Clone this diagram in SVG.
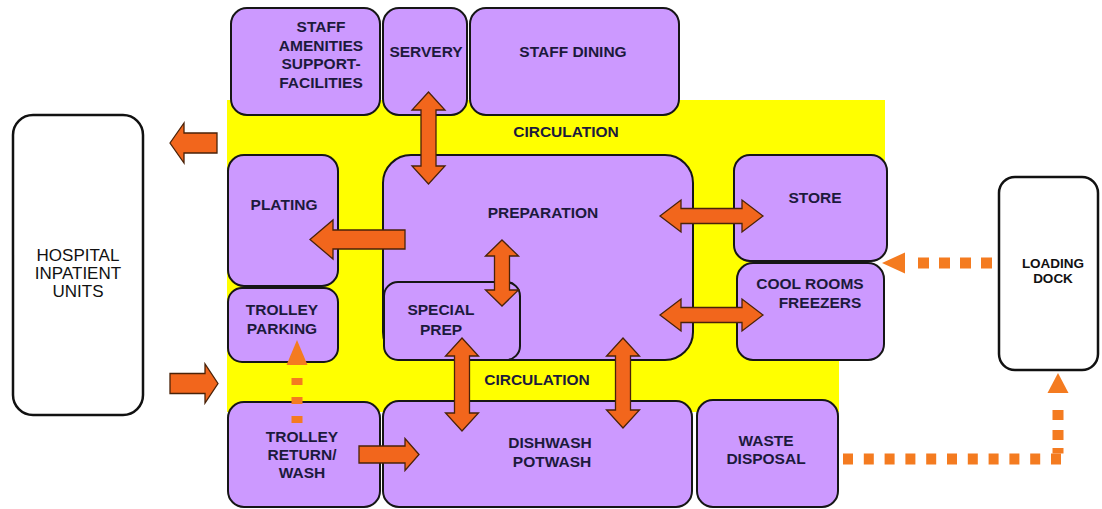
<svg xmlns="http://www.w3.org/2000/svg" width="1102" height="509" viewBox="0 0 1102 509">
<style>
.room{fill:#CC99FF;stroke:#161616;stroke-width:2}
.ext{fill:#ffffff;stroke:#111;stroke-width:2.5}
.lbl{font-family:"Liberation Sans",Arial,sans-serif;font-weight:bold;font-size:15.5px;fill:#1c1a3c;text-anchor:middle}
.ext-lbl{font-family:"Liberation Sans",Arial,sans-serif;font-size:17px;fill:#111;text-anchor:middle}
.dock-lbl{font-family:"Liberation Sans",Arial,sans-serif;font-size:13.5px;font-weight:bold;fill:#111;text-anchor:middle}
.arrow{fill:#F2661C;stroke:#4a2208;stroke-width:1.3;stroke-linejoin:miter}
.dash{fill:none;stroke:#F47B20;stroke-width:11}
.dhead{fill:#F47B20}
</style>
<rect width="1102" height="509" fill="#ffffff"/>
<g id="circulation">
<polygon points="227,100 885,100 885,200 839,200 839,412 227,412" fill="#FFFF00"/>
<text class="lbl" x="566" y="137">CIRCULATION</text>
<text class="lbl" x="537" y="385">CIRCULATION</text>
</g>
<g id="staff-amenities"><rect class="room" x="231" y="8" width="149" height="107" rx="16"/>
<text class="lbl" x="321" y="32">STAFF</text><text class="lbl" x="321" y="51">AMENITIES</text><text class="lbl" x="321" y="69">SUPPORT-</text><text class="lbl" x="321" y="88">FACILITIES</text></g>
<g id="servery"><rect class="room" x="383" y="8" width="84" height="107" rx="16"/>
<text class="lbl" x="426" y="57">SERVERY</text></g>
<g id="staff-dining"><rect class="room" x="470" y="8" width="209" height="107" rx="16"/>
<text class="lbl" x="573" y="57">STAFF DINING</text></g>
<g id="plating"><rect class="room" x="228" y="155" width="110" height="131" rx="16"/>
<text class="lbl" x="284" y="210">PLATING</text></g>
<g id="trolley-parking"><rect class="room" x="228" y="288" width="110" height="74" rx="14"/>
<text class="lbl" x="282" y="315">TROLLEY</text><text class="lbl" x="282" y="334">PARKING</text></g>
<g id="preparation"><rect class="room" x="383" y="155" width="310" height="205" rx="28"/>
<text class="lbl" x="543" y="218">PREPARATION</text></g>
<g id="special-prep"><rect class="room" x="384" y="282" width="136" height="78" rx="14"/>
<text class="lbl" x="441" y="315">SPECIAL</text><text class="lbl" x="441" y="335">PREP</text></g>
<g id="store"><rect class="room" x="734" y="155" width="153" height="106" rx="16"/>
<text class="lbl" x="815" y="203">STORE</text></g>
<g id="cool-rooms"><rect class="room" x="737" y="263" width="147" height="97" rx="16"/>
<text class="lbl" x="810" y="289">COOL ROOMS</text><text class="lbl" x="820" y="308">FREEZERS</text></g>
<g id="trolley-return"><rect class="room" x="228" y="402" width="152" height="105" rx="16"/>
<text class="lbl" x="302" y="442">TROLLEY</text><text class="lbl" x="302" y="460">RETURN/</text><text class="lbl" x="302" y="478">WASH</text></g>
<g id="dishwash"><rect class="room" x="383" y="401" width="309" height="106" rx="16"/>
<text class="lbl" x="550" y="448">DISHWASH</text><text class="lbl" x="552" y="467">POTWASH</text></g>
<g id="waste-disposal"><rect class="room" x="697" y="400" width="141" height="107" rx="16"/>
<text class="lbl" x="766" y="446">WASTE</text><text class="lbl" x="766" y="464">DISPOSAL</text></g>
<g id="hospital"><rect class="ext" x="13" y="115" width="130" height="300" rx="20"/>
<text class="ext-lbl" x="78" y="261">HOSPITAL</text><text class="ext-lbl" x="78" y="279">INPATIENT</text><text class="ext-lbl" x="78" y="297">UNITS</text></g>
<g id="loading-dock"><rect class="ext" x="999" y="177" width="99" height="193" rx="16"/>
<text class="dock-lbl" x="1053" y="268">LOADING</text><text class="dock-lbl" x="1053" y="283">DOCK</text></g>
<g id="connectors">
<polygon class="arrow" points="428.5,92 445,110 436,110 436,166 445,166 428.5,184 412,166 421,166 421,110 412,110"/>
<polygon class="arrow" points="502,240 518.5,256 509.5,256 509.5,290 518.5,290 502,306 485.5,290 494.5,290 494.5,256 485.5,256"/>
<polygon class="arrow" points="462,338 478.5,356 469.5,356 469.5,413 478.5,413 462,431 445.5,413 454.5,413 454.5,356 445.5,356"/>
<polygon class="arrow" points="623,338 639.5,356 630.5,356 630.5,410 639.5,410 623,428 606.5,410 615.5,410 615.5,356 606.5,356"/>
<polygon class="arrow" points="660,216 681,200 681,208.5 742,208.5 742,200 763,216 742,232 742,223.5 681,223.5 681,232"/>
<polygon class="arrow" points="660,315 681,299 681,307.5 742,307.5 742,299 763,315 742,331 742,322.5 681,322.5 681,331"/>
<polygon class="arrow" points="310,239.5 333,220 333,230 405,230 405,249 333,249 333,259"/>
<polygon class="arrow" points="170,143 184,123 184,133 217,133 217,153 184,153 184,163"/>
<polygon class="arrow" points="218,383.5 205,364 205,373.5 170,373.5 170,393.5 205,393.5 205,403"/>
<polygon class="arrow" points="419,454.5 405,438.5 405,446 359,446 359,463 405,463 405,470.5"/>
<path class="dash" d="M992,263 H918" stroke-dasharray="11 10"/>
<polygon class="dhead" points="882,263 905,252.5 905,273.5"/>
<path class="dash" d="M843,459 H1064" stroke-dasharray="10 10.8"/>
<path class="dash" d="M1058,453.5 V448"/>
<path class="dash" d="M1058,440 V410" stroke-dasharray="10 10"/>
<polygon class="dhead" points="1058,373 1068.5,393 1047.5,393"/>
<path class="dash" d="M297,423 V377" stroke-dasharray="7 12"/>
<polygon class="dhead" points="297,340 307.5,365 286.5,365"/>
</g>
</svg>
